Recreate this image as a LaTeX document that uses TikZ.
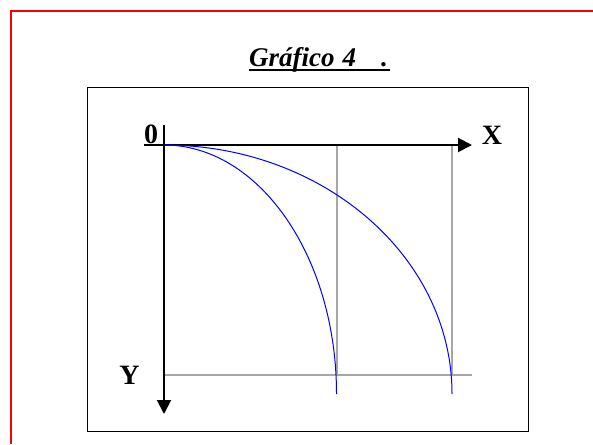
\documentclass[tikz,border=0pt]{standalone}
\usepackage{fontspec}
\setmainfont{Liberation Serif}
\usetikzlibrary{arrows.meta}
\tikzset{
  axisline/.style={line width=2pt, black, -{Triangle[length=14pt,width=14pt]}},
  guide/.style={line width=1.2pt, gray!70},
  curve/.style={line width=1pt, blue},
  lbl/.style={inner sep=0pt, anchor=base, font=\fontsize{28}{32}\selectfont\bfseries},
}
\begin{document}
\begin{tikzpicture}[x=1pt,y=-1pt]
\useasboundingbox (0,0) rectangle (593,444);
% red frame (top and left only visible)
\draw[red, line width=2.2pt] (11,444) -- (11,11) -- (593,11);
% inner box
\draw[black, line width=1.3pt] (87.5,87.5) rectangle (528.5,431.5);
% title
\node[inner sep=0pt, anchor=base west, font=\fontsize{27}{31}\selectfont\bfseries\itshape] (title) at (249,66.5) {Gráfico\hspace{8pt}4\hspace{25pt}.};
\draw[line width=2.8pt] (249,70) -- (390,70);
% coordinates
\coordinate (O) at (164,145);
\coordinate (xs) at (144,145);
\coordinate (xe) at (472,145);
\coordinate (ys) at (164,125);
\coordinate (ye) at (164,414);
\coordinate (v1t) at (337,145);
\coordinate (v1b) at (337,375);
\coordinate (v2t) at (452,145);
\coordinate (v2b) at (452,375);
\coordinate (hs) at (164,375);
\coordinate (he) at (472,375);
\coordinate (e1) at (336.5,394);
\coordinate (e2) at (452,394);
% guides
\draw[guide] (v1t) -- (v1b);
\draw[guide] (v2t) -- (v2b);
\draw[guide] (hs) -- (he);
% axes
\draw[axisline] (xs) -- (xe);
\draw[axisline] (ys) -- (ye);
% curves (quarter ellipses)
\draw[curve] (O) .. controls (259,145) and (336.5,256.5) .. (e1);
\draw[curve] (O) .. controls (323,145) and (452,256.5) .. (e2);
% labels
\node[lbl] (zero) at (151,143) {0};
\node[lbl] (xl) at (492,144) {X};
\node[lbl] (yl) at (129.5,384) {Y};
\end{tikzpicture}
\end{document}
